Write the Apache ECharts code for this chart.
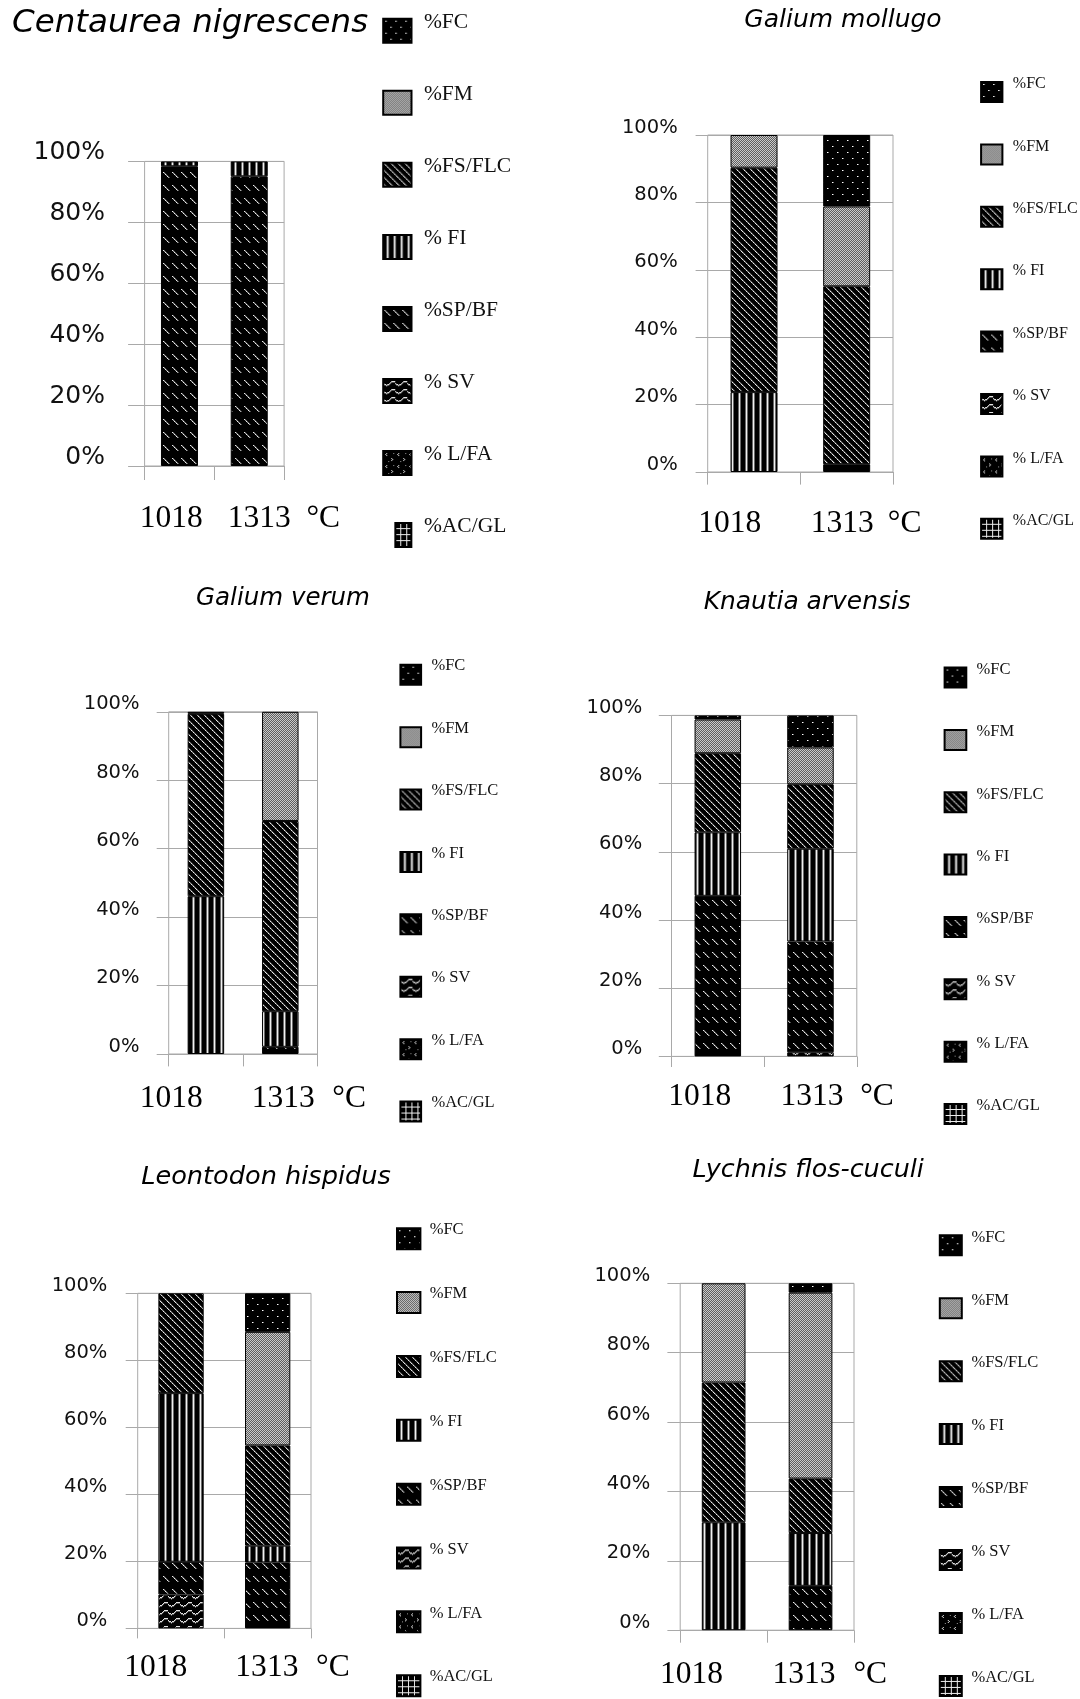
<!DOCTYPE html>
<html>
<head>
<meta charset="utf-8">
<script src="https://cdn.jsdelivr.net/npm/echarts@6/dist/echarts.min.js"></script>
<style>
  html, body { margin: 0; padding: 0; background: #ffffff; }
  #chart { width: 1080px; height: 1699px; }
</style>
</head>
<body>
<div id="chart"></div>
<script>
// ---- data -------------------------------------------------------------
const TEMPS = ['1018', '1313'];
const FRACTIONS = ['%FC', '%FM', '%FS/FLC', '% FI', '%SP/BF', '% SV', '% L/FA', '%AC/GL'];
const PERCENT_TICKS = [0, 20, 40, 60, 80, 100];
const SPECIES = ['Centaurea nigrescens', 'Galium mollugo', 'Galium verum',
                 'Knautia arvensis', 'Leontodon hispidus', 'Lychnis flos-cuculi'];

// shares (%) per fraction, in FRACTIONS order (FC ... AC/GL)
const centaurea1018 = [0, 0, 0, 1.6, 98.4, 0, 0, 0];
const centaurea1313 = [0, 0, 0, 4.9, 95.1, 0, 0, 0];
const mollugo1018   = [0, 9.7, 66.6, 23.7, 0, 0, 0, 0];
const mollugo1313   = [21.2, 23.7, 52.8, 0, 2.3, 0, 0, 0];
const verum1018     = [0.6, 0, 53.3, 46.1, 0, 0, 0, 0];
const verum1313     = [0, 31.9, 55.6, 10.4, 2.1, 0, 0, 0];
const knautia1018   = [1.2, 9.9, 23.2, 18.6, 47.1, 0, 0, 0];
const knautia1313   = [9.4, 10.8, 18.9, 27.2, 32.5, 1.2, 0, 0];
const leontodon1018 = [0, 0, 29.8, 50.3, 9.8, 10.1, 0, 0];
const leontodon1313 = [11.5, 33.9, 29.9, 5.0, 19.7, 0, 0, 0];
const lychnis1018   = [0, 28.6, 40.3, 31.1, 0, 0, 0, 0];
const lychnis1313   = [2.7, 53.6, 15.7, 15.2, 12.8, 0, 0, 0];

const PANEL_VALUES = [
  [centaurea1018, centaurea1313],
  [mollugo1018, mollugo1313],
  [verum1018, verum1313],
  [knautia1018, knautia1313],
  [leontodon1018, leontodon1313],
  [lychnis1018, lychnis1313]
];

// ---- layout of the six panels ------------------------------------------
const PANELS = [
  { grid: { left: 144.6, top: 161.4, width: 139.5, height: 304.6 }, barWidth: 37,
    yFont: 25, yLine: 17, yMargin: 39.6, yTick: 16.5, xTick: 14, xFont: 31.5, xMargin: 37, xShift: [-8.2, 9.9],
    unit: { x: 306.5, y: 519 }, title: { x: 12, y: 24, size: 32.5, align: 'left' },
    legend: { left: 382.2, iconTop: 18.5, iconW: 28.3, iconH: 24, step: 72, font: 21.5, gap: 12.4, lift: 8.6,
              narrowLast: true } },
  { grid: { left: 707.7, top: 135, width: 185.3, height: 337 }, barWidth: 47,
    yFont: 19.5, yLine: 15, yMargin: 30, yTick: 12.1, xTick: 12.6, xFont: 31.5, xMargin: 36, xShift: [-24.2, -4.4],
    unit: { x: 887.8, y: 524 }, title: { x: 843, y: 20.5, size: 25, align: 'center' },
    legend: { left: 980.1, iconTop: 82, iconW: 21.3, iconH: 20, step: 62.6, font: 16, gap: 10.4, lift: 8 } },
  { grid: { left: 168.7, top: 711.8, width: 148.8, height: 342.2 }, barWidth: 36.5,
    yFont: 19.5, yLine: 15, yMargin: 29.2, yTick: 12, xTick: 12.4, xFont: 31.5, xMargin: 29, xShift: [-34.6, 2.9],
    unit: { x: 332.3, y: 1099 }, title: { x: 283, y: 599, size: 24.5, align: 'center' },
    legend: { left: 399.4, iconTop: 664.5, iconW: 20.7, iconH: 20, step: 62.35, font: 16.5, gap: 10.3, lift: 8.6 } },
  { grid: { left: 671.5, top: 715.4, width: 185.3, height: 341 }, barWidth: 46.5,
    yFont: 19.5, yLine: 15, yMargin: 29.2, yTick: 12.7, xTick: 10.6, xFont: 31.5, xMargin: 24.6, xShift: [-18, 1.6],
    unit: { x: 860.2, y: 1097 }, title: { x: 807.2, y: 602.7, size: 24.9, align: 'center' },
    legend: { left: 943.6, iconTop: 667.3, iconW: 21.7, iconH: 20, step: 62.3, font: 16.5, gap: 10.3, lift: 8 } },
  { grid: { left: 137.7, top: 1293.3, width: 173.3, height: 335.1 }, barWidth: 45.3,
    yFont: 19.5, yLine: 15, yMargin: 30.3, yTick: 12, xTick: 10, xFont: 31.5, xMargin: 23.6, xShift: [-25.2, -0.8],
    unit: { x: 316.1, y: 1668 }, title: { x: 266, y: 1177.6, size: 25.6, align: 'center' },
    legend: { left: 396, iconTop: 1228, iconW: 23.4, iconH: 21, step: 63.8, font: 16.5, gap: 9.3, lift: 8.6 } },
  { grid: { left: 680.2, top: 1283.3, width: 173.8, height: 346.9 }, barWidth: 43.7,
    yFont: 19.5, yLine: 15, yMargin: 30, yTick: 12.8, xTick: 12.5, xFont: 31.5, xMargin: 29, xShift: [-32.1, -6.5],
    unit: { x: 853.4, y: 1675 }, title: { x: 808.2, y: 1170.5, size: 25.4, align: 'center' },
    legend: { left: 938.8, iconTop: 1235, iconW: 22, iconH: 20, step: 62.9, font: 16.5, gap: 9.6, lift: 8 } }
];

const GRID_GRAY = '#a9a9a9';
const SANS = '"DejaVu Sans", sans-serif';
const SERIF = '"Liberation Serif", "Times New Roman", serif';
// measured text boxes run about one pixel taller than the nominal font size
const TEXT_BOX_EXTRA = 1.2;

// ---- monochrome fill patterns -----------------------------------------
function makeTile(w, h, paint) {
  const c = document.createElement('canvas');
  c.width = w; c.height = h;
  const g = c.getContext('2d');
  g.fillStyle = '#000'; g.fillRect(0, 0, w, h);
  paint((x, y, col) => { g.fillStyle = col; g.fillRect(x, y, 1, 1); }, g, w, h);
  return c;
}

const TILES = {
  '%FC': makeTile(10, 12, (p) => {
    p(2, 2, '#ffffff'); p(3, 2, '#7a7a7a'); p(7, 8, '#ffffff'); p(8, 8, '#7a7a7a');
  }),
  '%FM': makeTile(2, 2, (p) => {
    p(0, 0, '#cacaca'); p(1, 1, '#cacaca'); p(1, 0, '#5e5e5e'); p(0, 1, '#5e5e5e');
  }),
  '%FS/FLC': makeTile(7, 7, (p, g, w, h) => {
    for (let y = 0; y < h; y++) for (let x = 0; x < w; x++) {
      const d = (x - y + w) % w;
      if (d === 0) p(x, y, y % 2 ? '#a0a0a0' : '#e8e8e8');
      else if (d === 1) p(x, y, '#4a4a4a');
    }
  }),
  '% FI': makeTile(7, 1, (p) => {
    p(3, 0, '#6a6a6a'); p(4, 0, '#f0f0f0'); p(5, 0, '#6a6a6a');
  }),
  '%SP/BF': makeTile(9, 13, (p) => {
    [[1, 3], [2, 4], [3, 5], [4, 6], [5, 7], [6, 8]].forEach(([x, y], k) => {
      p(x, y, k % 2 ? '#a8a8a8' : '#ececec');
      p(x + 1, y, '#505050');
    });
  }),
  '% SV': makeTile(12, 8, (p, g, w, h) => {
    for (let x = 0; x < w; x++) {
      const y = Math.round(3.5 + 2 * Math.sin(2 * Math.PI * x / w));
      p(x, y, '#e2e2e2'); p(x, (y + 1) % h, '#555555');
    }
  }),
  '% L/FA': makeTile(12, 12, (p) => {
    p(3, 2, '#dddddd'); p(2, 3, '#dddddd'); p(3, 4, '#dddddd');
    p(8, 7, '#dddddd'); p(9, 8, '#dddddd'); p(8, 9, '#dddddd');
    p(10, 2, '#999999'); p(5, 10, '#999999');
  }),
  '%AC/GL': makeTile(6, 6, (p, g) => {
    g.fillStyle = '#eeeeee'; g.fillRect(5, 0, 1, 6); g.fillRect(0, 5, 6, 1);
  })
};

// a swatch that only fills the right part of its slot (invisible anchor at the origin)
const NARROW_SWATCH = 'path://M0,0M12,0L28,0L28,24L12,24Z';

// ---- option ------------------------------------------------------------
const grids = [], xAxes = [], yAxes = [], series = [], legends = [], graphics = [];

PANELS.forEach((P, i) => {
  grids.push(Object.assign({
    show: true, borderColor: GRID_GRAY, borderWidth: 1, backgroundColor: 'transparent',
    containLabel: false, outerBoundsMode: 'none'
  }, P.grid));

  const rich = {};
  P.xShift.forEach((s, k) => {
    rich['t' + k] = {
      fontFamily: SERIF, fontSize: P.xFont, lineHeight: P.xFont, color: '#000',
      padding: s < 0 ? [0, -2 * s, 0, 0] : [0, 0, 0, 2 * s]
    };
  });

  xAxes.push({
    type: 'category', gridIndex: i, data: TEMPS,
    axisLine: { show: false },
    axisTick: { show: true, length: P.xTick, lineStyle: { color: GRID_GRAY, width: 1 } },
    splitLine: { show: false },
    axisLabel: {
      interval: 0, margin: P.xMargin, fontFamily: SERIF, fontSize: P.xFont, color: '#000',
      formatter: (v, k) => '{t' + k + '|' + v + '}', rich: rich
    }
  });

  yAxes.push({
    type: 'value', gridIndex: i,
    min: PERCENT_TICKS[0], max: PERCENT_TICKS[PERCENT_TICKS.length - 1],
    interval: PERCENT_TICKS[1] - PERCENT_TICKS[0],
    axisLine: { show: false },
    axisTick: { show: true, length: P.yTick, lineStyle: { color: GRID_GRAY, width: 1 } },
    splitLine: { show: true, lineStyle: { color: GRID_GRAY, width: 1 } },
    axisLabel: {
      formatter: '{value}%', fontFamily: SANS, fontSize: P.yFont, lineHeight: P.yLine,
      color: '#111', margin: P.yMargin, verticalAlign: 'bottom'
    }
  });

  // stacked from the bottom (AC/GL) up to the top (FC)
  for (let f = FRACTIONS.length - 1; f >= 0; f--) {
    const name = FRACTIONS[f];
    series.push({
      type: 'bar', name: name, xAxisIndex: i, yAxisIndex: i, stack: 'panel' + i,
      barWidth: P.barWidth,
      data: PANEL_VALUES[i].map(arr => (arr[f] > 0 ? arr[f] : '-')),
      itemStyle: { color: { image: TILES[name], repeat: 'repeat' }, borderColor: '#000', borderWidth: 1 },
      emphasis: { disabled: true }
    });
  }

  // legend: label sits a little above the middle of its swatch
  const L = P.legend;
  const rectTop = Math.min(0, L.iconH / 2 - L.font / 2 - L.lift);
  const rectBottom = Math.max(L.iconH, L.iconH / 2 + L.font / 2 - L.lift);
  const legendData = FRACTIONS.map((name, k) =>
    (L.narrowLast && k === FRACTIONS.length - 1) ? { name: name, icon: NARROW_SWATCH } : name);
  legends.push({
    orient: 'vertical', left: L.left, top: L.iconTop + rectTop, height: 800, padding: 0,
    itemWidth: L.iconW, itemHeight: L.iconH,
    itemGap: L.step - (rectBottom - rectTop) - TEXT_BOX_EXTRA,
    icon: 'rect', selectedMode: false, data: legendData,
    formatter: name => '{t|' + name + '}',
    textStyle: {
      fontFamily: SERIF, fontSize: L.font, lineHeight: L.font, color: '#111',
      padding: [-L.lift, 0, L.lift, L.gap - 5],
      rich: { t: { fontFamily: SERIF, fontSize: L.font, lineHeight: L.font, color: '#111' } }
    }
  });

  graphics.push({
    type: 'text', x: P.title.x, y: P.title.y, silent: true,
    style: {
      text: SPECIES[i], fill: '#000', font: 'italic ' + P.title.size + 'px ' + SANS,
      align: P.title.align, verticalAlign: 'middle'
    }
  });
  graphics.push({
    type: 'text', x: P.unit.x, y: P.unit.y, silent: true,
    style: {
      text: '°C', fill: '#000', font: P.xFont + 'px ' + SERIF,
      align: 'left', verticalAlign: 'middle'
    }
  });
});

const chart = echarts.init(document.getElementById('chart'), null, { renderer: 'canvas', devicePixelRatio: 1 });
chart.setOption({
  animation: false,
  backgroundColor: '#ffffff',
  grid: grids,
  xAxis: xAxes,
  yAxis: yAxes,
  legend: legends,
  series: series,
  graphic: graphics
});
</script>
</body>
</html>
